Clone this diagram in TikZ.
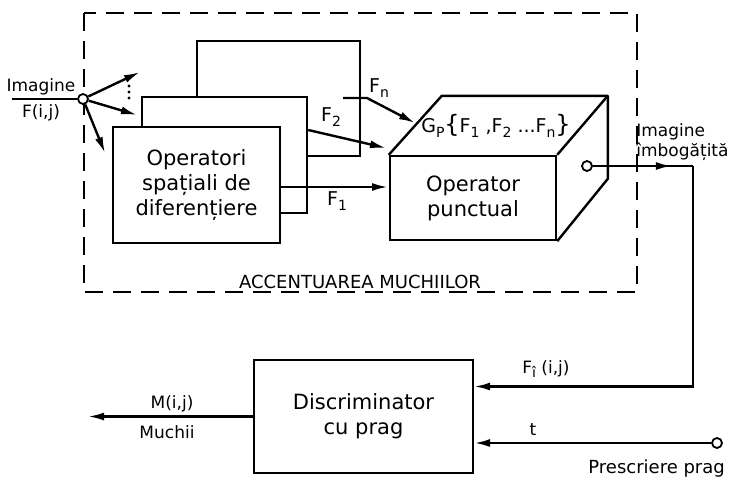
\documentclass[tikz,border=0pt]{standalone}
\usepackage{fontspec}
\setmainfont{DejaVu Sans}
\usetikzlibrary{arrows.meta,calc}
\newcommand{\idx}[1]{\raisebox{-0.45ex}{\fontsize{7}{7}\selectfont #1}}
\tikzset{
  op box/.style={
    rectangle,
    draw,
    line width=1.2pt,
    fill=white,
    inner sep=0pt,
    align=center,
    font=\fontsize{10.5}{12.5}\selectfont,
  },
  op label/.style={inner sep=1pt, font=\fontsize{8.5}{10}\selectfont},
  op port/.style={circle, draw, line width=0.9pt, fill=white, minimum size=5pt, inner sep=0pt},
  op dot/.style={circle, fill, minimum size=1.6pt, inner sep=0pt},
  op arrow/.style={-{Latex[length=8pt,width=4pt]}, line width=1.2pt},
  op line/.style={line width=1.2pt, line join=round},
  op frame/.style={line width=0.7pt, dash pattern=on 9pt off 5pt},
}

\begin{document}
\begin{tikzpicture}[x=0.5pt,y=-0.5pt]
  \useasboundingbox (0,0) rectangle (735,477);

  % accentuarea muchiilor
  \draw[op frame] (84,13) rectangle (637,292);
  \node[op label,font=\fontsize{9}{10}\selectfont] (acc) at (360,282) {ACCENTUAREA MUCHIILOR};

  \node[op box,minimum width=81.5pt,minimum height=57.5pt] (opn) at (278.5,98.5) {};
  \node[op box,minimum width=82.5pt,minimum height=58pt] (op2) at (224.5,155) {};
  \node[op box,minimum width=83.5pt,minimum height=58pt] (op1) at (196.5,185)
    {Operatori\\spațiali de\\diferențiere};

  % cubul
  \node[op box,minimum width=83pt,minimum height=42pt] (punct) at (473,198) {Operator\\punctual};
  \draw[op line] (punct.north west) -- ++(53,-59) coordinate (tl)
    -- ++(166,0) coordinate (tr) -- ++(0,83) coordinate (br) -- (punct.south east);
  \draw[op line] (punct.north east) -- (tr);
  \node[op label,font=\fontsize{9.5}{10}\selectfont] (gp) at (496,126)
    {G\idx{P}{\fontsize{12}{12}\selectfont\{}F\idx{1} ,F\idx{2} ...F\idx{n}{\fontsize{12}{12}\selectfont\}}};

  % intrare
  \coordinate (in) at (12,99);
  \node[op port] (split) at (83,99) {};
  \coordinate (s1) at (140,72);
  \coordinate (s2) at (137,115);
  \coordinate (s3) at (105,153);
  \draw[op line] (in) -- (split);
  \draw[op arrow] (split) -- (s1);
  \draw[op arrow] (split) -- (s2);
  \draw[op arrow] (split) -- (s3);
  \foreach \y in {86,92,98}
    \node[op dot] at (129,\y) {};
  \node[op label] (img) at (41,87) {Imagine};
  \node[op label] (fij) at (41,113) {F(i,j)};

  % F1 .. Fn
  \coordinate (f1) at (388,187);
  \coordinate (f2) at (386,148);
  \coordinate (fna) at (343,98);
  \coordinate (fnb) at (367,98);
  \coordinate (fnc) at (415,123);
  \draw[op arrow] (op1.east |- f1) -- (f1);
  \draw[op arrow] (op2.east |- 0,130) -- (f2);
  \draw[op arrow] (fna) -- (fnb) -- (fnc);
  \node[op label,font=\fontsize{9.5}{10}\selectfont] (l1) at (337,201) {F\idx{1}};
  \node[op label,font=\fontsize{9.5}{10}\selectfont] (l2) at (331,117) {F\idx{2}};
  \node[op label,font=\fontsize{9.5}{10}\selectfont] (ln) at (379,88) {F\idx{n}};

  % iesire
  \node[op port] (out) at (587,166) {};
  \coordinate (fb) at (693,166);
  \draw[op line] (out) -- (fb);
  \draw[op arrow] (out) -- ($(out)!0.8!(fb)$);
  \node[op label,anchor=west,align=left] (imb) at (634,142) {Imagine\\îmbogățită};

  % discriminator
  \node[op box,minimum width=109.5pt,minimum height=56.5pt] (disc) at (363.5,416.5)
    {Discriminator\\cu prag};
  \coordinate (edges) at (88,416.5);
  \draw[op arrow] (fb) |- ($(disc.north east)!0.24!(disc.south east)$);
  \node[op port] (thr) at (717,443) {};
  \draw[op arrow] (thr) -- (disc.east |- thr);
  \draw[op arrow] (disc.west) -- (edges);
  \node[op label] (fi) at (546,369) {F\idx{î} (i,j)};
  \node[op label] (tl) at (533,430) {t};
  \node[op label,anchor=west,font=\fontsize{9}{10}\selectfont] (presc) at (586,469) {Prescriere prag};
  \node[op label] (mij) at (172,404) {M(i,j)};
  \node[op label] (much) at (167,432) {Muchii};
\end{tikzpicture}
\end{document}
